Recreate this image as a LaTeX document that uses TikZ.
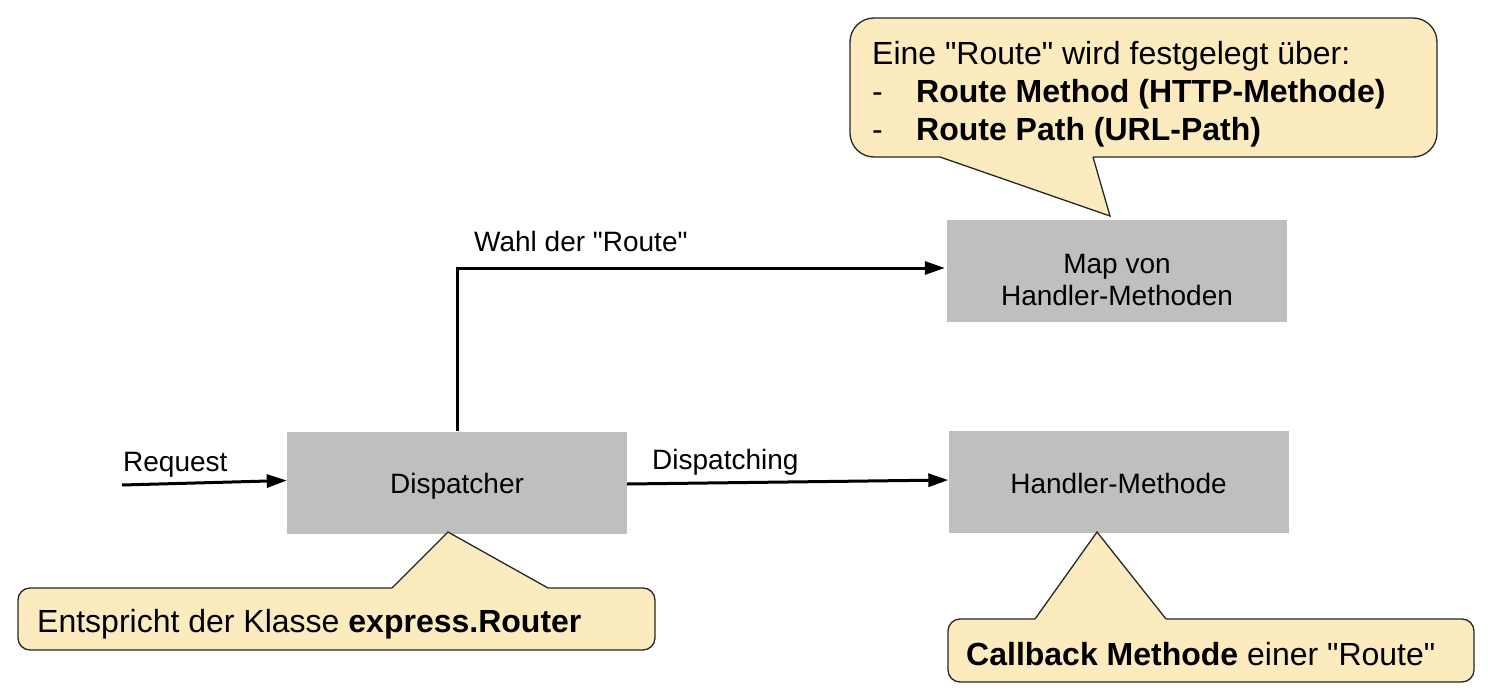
\documentclass[tikz,border=0pt]{standalone}
\usepackage{fontspec}
\setmainfont{Liberation Sans}[Ligatures=TeXOff]
\usetikzlibrary{arrows.meta}
\definecolor{boxgray}{HTML}{BFBFBF}
\definecolor{noteyellow}{HTML}{FDEBC0}
\begin{document}
\begin{tikzpicture}[x=1pt,y=-1pt,
  box/.style={fill=boxgray, minimum width=340pt, minimum height=102pt, inner sep=0pt},
  boxtext/.style={inner sep=0pt, font=\fontsize{28}{32}\selectfont, align=center},
  lbl/.style={anchor=base west, inner sep=0pt, font=\fontsize{28}{32}\selectfont},
  note/.style={fill=noteyellow, draw=black!85, line width=1.3pt},
  tailfill/.style={fill=noteyellow},
  tailline/.style={draw=black!85, line width=1.3pt, line join=miter},
  notetext/.style={anchor=base west, inner sep=0pt, font=\fontsize{32}{37}\selectfont},
  conn/.style={line width=3pt, -{Triangle[length=20pt,width=13pt]}},
  plain/.style={line width=3pt}
]
\path[use as bounding box] (0,0) rectangle (1488,698);

% boxes
\node[box] (disp) at (457,482.5) {};
\node[boxtext] (disptext) at ([yshift=-4pt]disp.center) {Dispatcher};
\node[box] (map) at (1117,271) {};
\node[boxtext] (maptext) at ([yshift=-9pt]map.center) {Map von\\Handler-Methoden};
\node[box] (hm) at (1118.5,482) {};
\node[boxtext] (hmtext) at ([yshift=-1.5pt]hm.center) {Handler-Methode};

% connectors
\coordinate (reqstart) at (122,485);
\draw[conn] (reqstart) -- ([yshift=2pt]disp.west);
\draw[conn] ([yshift=-1.5pt]disp.east) -- ([yshift=2pt]hm.west);
\coordinate (bend) at (457,266.5);
\draw[plain] (disp.north) -- (bend);
\coordinate (hstart) at (459,268);
\draw[conn, shorten >=2pt] (hstart) -- (hstart -| map.west);

% labels
\node[lbl] (lreq) at (123,471) {Request};
\node[lbl] (ldisp) at (652,469) {Dispatching};
\node[lbl] (lwahl) at (474,251) {Wahl der "Route"};

% top callout
\draw[note, rounded corners=24pt] (850,18) rectangle (1437,157);
\fill[tailfill] (940,154) -- (940,157) -- (1110,216) -- (1093,157) -- (1093,154) -- cycle;
\draw[tailline] (940,157) -- (1110,216) -- (1093,157);
\node[notetext] (t1) at (872,65) {Eine "Route" wird festgelegt über:};
\node[notetext] (t2) at (872,103) {\makebox[44pt][l]{-}\textbf{Route Method (HTTP-Methode)}};
\node[notetext] (t3) at (872,140) {\makebox[44pt][l]{-}\textbf{Route Path (URL-Path)}};

% bottom-left callout
\draw[note, rounded corners=12pt] (18,588) rectangle (655,650);
\fill[tailfill] (392,591) -- (392,588) -- (448,532) -- (548,588) -- (548,591) -- cycle;
\draw[tailline] (392,588) -- (448,532) -- (548,588);
\node[notetext] (b1) at (37,632) {Entspricht der Klasse \textbf{express.Router}};

% bottom-right callout
\draw[note, rounded corners=12pt] (948,619) rectangle (1474,682);
\fill[tailfill] (1035,622) -- (1035,619) -- (1097,532) -- (1166,619) -- (1166,622) -- cycle;
\draw[tailline] (1035,619) -- (1097,532) -- (1166,619);
\node[notetext] (r1) at (966,665) {\textbf{Callback Methode} einer "Route"};
\end{tikzpicture}
\end{document}
